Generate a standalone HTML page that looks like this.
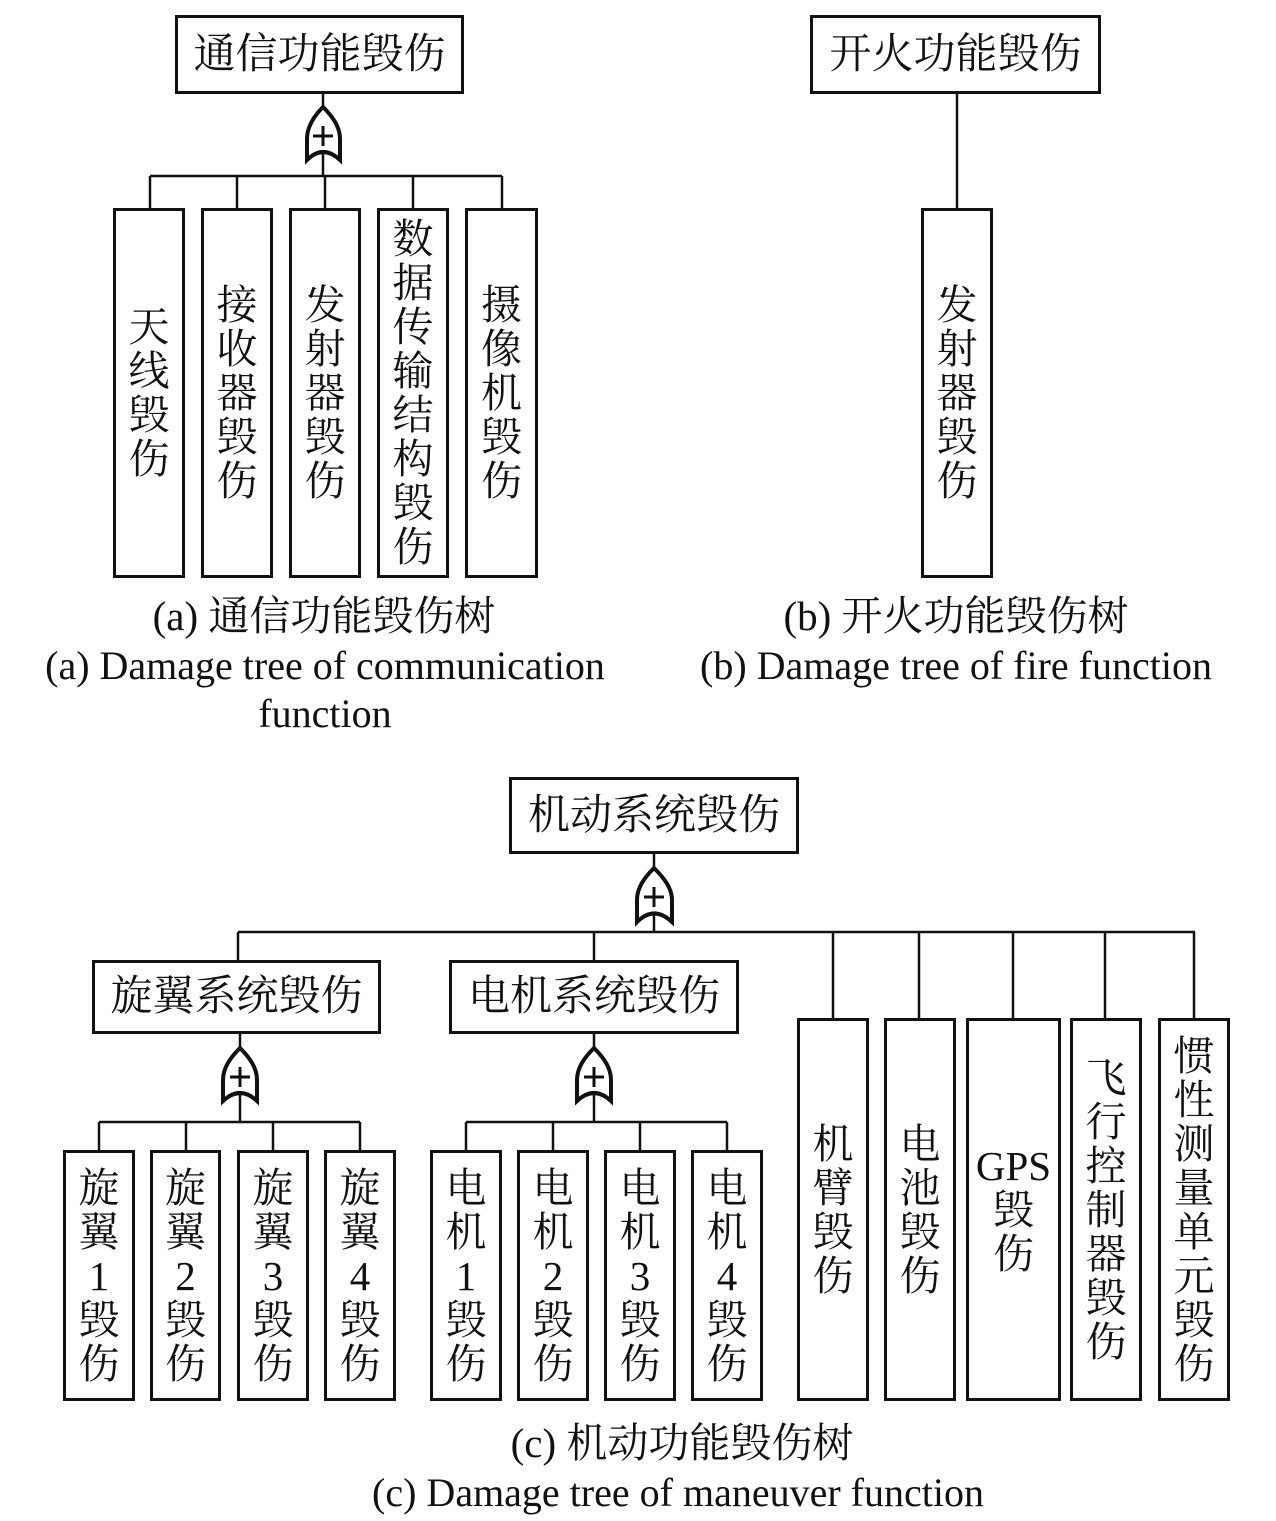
<!DOCTYPE html>
<html><head><meta charset="utf-8"><style>
body{margin:0;width:1276px;height:1521px;background:#fff;position:relative;overflow:hidden;font-family:"Liberation Serif","Noto Serif CJK SC",serif;color:#111}
.b{position:absolute;border:3px solid #111;box-sizing:border-box;display:flex;align-items:center;justify-content:center;text-align:center;font-size:41px;line-height:44px}
.h{font-size:42px}
.c{position:absolute;left:0;width:100%;text-align:center;font-size:40px;line-height:40px;white-space:nowrap}
.z{font-size:41px}
svg{position:absolute;left:0;top:0}
</style></head><body>
<svg width="1276" height="1521" stroke="#111" stroke-width="2.5" fill="none">
<line x1="323" y1="93" x2="323" y2="107"/>
<line x1="323" y1="152" x2="323" y2="176"/>
<line x1="150" y1="176" x2="502" y2="176"/>
<line x1="150" y1="176" x2="150" y2="208"/><line x1="237" y1="176" x2="237" y2="208"/><line x1="325" y1="176" x2="325" y2="208"/><line x1="413" y1="176" x2="413" y2="208"/><line x1="502" y1="176" x2="502" y2="208"/>
<line x1="957" y1="93" x2="957" y2="208"/>
<line x1="654" y1="853" x2="654" y2="868"/>
<line x1="654" y1="912" x2="654" y2="932"/>
<line x1="238" y1="932" x2="1195" y2="932"/>
<line x1="238" y1="932" x2="238" y2="960"/><line x1="594" y1="932" x2="594" y2="960"/>
<line x1="833" y1="932" x2="833" y2="1018"/><line x1="919" y1="932" x2="919" y2="1018"/><line x1="1013" y1="932" x2="1013" y2="1018"/><line x1="1105" y1="932" x2="1105" y2="1018"/><line x1="1194" y1="932" x2="1194" y2="1018"/>
<line x1="240" y1="1033" x2="240" y2="1048"/><line x1="240" y1="1092" x2="240" y2="1122"/>
<line x1="99" y1="1122" x2="360" y2="1122"/>
<line x1="99" y1="1122" x2="99" y2="1150"/><line x1="186" y1="1122" x2="186" y2="1150"/><line x1="273" y1="1122" x2="273" y2="1150"/><line x1="360" y1="1122" x2="360" y2="1150"/>
<line x1="594" y1="1033" x2="594" y2="1048"/><line x1="594" y1="1092" x2="594" y2="1122"/>
<line x1="466" y1="1122" x2="727" y2="1122"/>
<line x1="466" y1="1122" x2="466" y2="1150"/><line x1="553" y1="1122" x2="553" y2="1150"/><line x1="640" y1="1122" x2="640" y2="1150"/><line x1="727" y1="1122" x2="727" y2="1150"/>
<g stroke-width="4">
<path d="M323,107 C313,117 307,127 307,139 L307,160 Q323,144 340,160 L340,139 C340,127 333,117 323,107 Z"/>
<path d="M654,868 C644,878 637,888 637,900 L637,922 Q654,905 672,922 L672,900 C672,888 664,878 654,868 Z"/>
<path d="M240,1048 C230,1058 223,1068 223,1080 L223,1101 Q240,1085 257,1101 L257,1080 C257,1068 250,1058 240,1048 Z"/>
<path d="M594,1048 C584,1058 577,1068 577,1080 L577,1101 Q594,1085 611,1101 L611,1080 C611,1068 604,1058 594,1048 Z"/>
</g>
<g stroke-width="3">
<path d="M323,126 v20 M313,136 h20"/>
<path d="M654,887 v20 M644,897 h20"/>
<path d="M240,1067 v20 M230,1077 h20"/>
<path d="M594,1067 v20 M584,1077 h20"/>
</g>
</svg>
<div class="b h" style="left:175px;top:15px;width:289px;height:79px">通信功能毁伤</div>
<div class="b" style="left:113px;top:208px;width:72px;height:370px">天<br>线<br>毁<br>伤</div>
<div class="b" style="left:201px;top:208px;width:72px;height:370px">接<br>收<br>器<br>毁<br>伤</div>
<div class="b" style="left:289px;top:208px;width:72px;height:370px">发<br>射<br>器<br>毁<br>伤</div>
<div class="b" style="left:377px;top:208px;width:72px;height:370px">数<br>据<br>传<br>输<br>结<br>构<br>毁<br>伤</div>
<div class="b" style="left:465px;top:208px;width:73px;height:370px">摄<br>像<br>机<br>毁<br>伤</div>
<div class="c z" style="left:-314px;top:596px">(a) 通信功能毁伤树</div>
<div class="c" style="left:-313px;top:646px">(a) Damage tree of communication</div>
<div class="c" style="left:-313px;top:694px">function</div>
<div class="b h" style="left:810px;top:15px;width:291px;height:79px">开火功能毁伤</div>
<div class="b" style="left:921px;top:208px;width:72px;height:370px">发<br>射<br>器<br>毁<br>伤</div>
<div class="c z" style="left:318px;top:596px">(b) 开火功能毁伤树</div>
<div class="c" style="left:318px;top:646px">(b) Damage tree of fire function</div>
<div class="b h" style="left:509px;top:777px;width:290px;height:77px">机动系统毁伤</div>
<div class="b h" style="left:92px;top:960px;width:289px;height:74px">旋翼系统毁伤</div>
<div class="b h" style="left:449px;top:960px;width:290px;height:74px">电机系统毁伤</div>
<div class="b" style="left:63px;top:1150px;width:72px;height:251px">旋<br>翼<br>1<br>毁<br>伤</div>
<div class="b" style="left:150px;top:1150px;width:71px;height:251px">旋<br>翼<br>2<br>毁<br>伤</div>
<div class="b" style="left:237px;top:1150px;width:72px;height:251px">旋<br>翼<br>3<br>毁<br>伤</div>
<div class="b" style="left:324px;top:1150px;width:72px;height:251px">旋<br>翼<br>4<br>毁<br>伤</div>
<div class="b" style="left:430px;top:1150px;width:72px;height:251px">电<br>机<br>1<br>毁<br>伤</div>
<div class="b" style="left:517px;top:1150px;width:72px;height:251px">电<br>机<br>2<br>毁<br>伤</div>
<div class="b" style="left:604px;top:1150px;width:72px;height:251px">电<br>机<br>3<br>毁<br>伤</div>
<div class="b" style="left:691px;top:1150px;width:72px;height:251px">电<br>机<br>4<br>毁<br>伤</div>
<div class="b" style="left:797px;top:1018px;width:72px;height:383px">机<br>臂<br>毁<br>伤</div>
<div class="b" style="left:884px;top:1018px;width:72px;height:383px">电<br>池<br>毁<br>伤</div>
<div class="b" style="left:966px;top:1018px;width:95px;height:383px">GPS<br>毁<br>伤</div>
<div class="b" style="left:1070px;top:1018px;width:72px;height:383px">飞<br>行<br>控<br>制<br>器<br>毁<br>伤</div>
<div class="b" style="left:1158px;top:1018px;width:72px;height:383px">惯<br>性<br>测<br>量<br>单<br>元<br>毁<br>伤</div>
<div class="c z" style="left:44px;top:1423px">(c) 机动功能毁伤树</div>
<div class="c" style="left:40px;top:1473px">(c) Damage tree of maneuver function</div>
</body></html>
